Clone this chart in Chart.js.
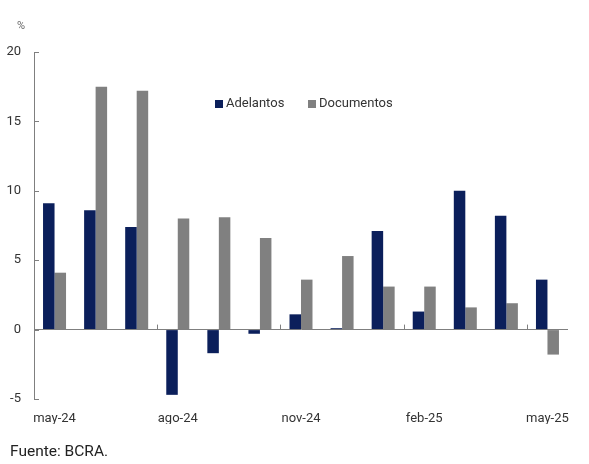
<!DOCTYPE html>
<html>
<head>
<meta charset="utf-8">
<script src="https://cdn.jsdelivr.net/npm/chart.js@4"></script>
<style>
  html, body { margin: 0; padding: 0; background: #fff; }
  #wrap { position: relative; width: 589px; height: 464px; }
  #pct { position: absolute; left: 17px; top: 19px; font: 11px Roboto, sans-serif; color: #666; }
  #src { position: absolute; left: 10px; top: 442px; font: 15.5px Roboto, sans-serif; color: #222; }
</style>
</head>
<body>
<div id="wrap">
  <canvas id="myChart" width="589" height="464"></canvas>
  <div id="pct">%</div>
  <div id="src">Fuente: BCRA.</div>
</div>
<script>
const months = ['may-24', 'jun-24', 'jul-24', 'ago-24', 'sep-24', 'oct-24', 'nov-24',
  'dic-24', 'ene-25', 'feb-25', 'mar-25', 'abr-25', 'may-25'];
const adelantos = [9.1, 8.6, 7.4, -4.7, -1.7, -0.3, 1.1, 0.1, 7.1, 1.3, 10.0, 8.2, 3.6];
const documentos = [4.1, 17.5, 17.2, 8.0, 8.1, 6.6, 3.6, 5.3, 3.1, 3.1, 1.6, 1.9, -1.8];
const yTicks = [20, 15, 10, 5, 0, -5];

const axisColor = '#7f7f7f';
const textColor = '#333';

// small marks: inward ticks on the y axis, upward ticks on the zero line every 3 months
const marks = {
  id: 'marks',
  afterDatasetsDraw(chart) {
    const { ctx, chartArea, scales } = chart;
    const x = scales.x, y = scales.y;
    ctx.save();
    ctx.strokeStyle = axisColor;
    ctx.lineWidth = 1;
    yTicks.forEach(v => {
      const py = Math.round(y.getPixelForValue(v)) + 0.5;
      ctx.beginPath();
      ctx.moveTo(chartArea.left, py);
      ctx.lineTo(chartArea.left + 5, py);
      ctx.stroke();
    });
    const y0 = y.getPixelForValue(0);
    const half = (x.getPixelForValue(1) - x.getPixelForValue(0)) / 2;
    for (let i = 3; i < months.length; i += 3) {
      const px = Math.round(x.getPixelForValue(i) - half) + 0.5;
      ctx.beginPath();
      ctx.moveTo(px, y0);
      ctx.lineTo(px, y0 - 5);
      ctx.stroke();
    }
    // legend
    ctx.font = '13px Roboto, sans-serif';
    ctx.textBaseline = 'middle';
    let lx = 215;
    chart.data.datasets.forEach(ds => {
      ctx.fillStyle = ds.backgroundColor;
      ctx.fillRect(lx, 100, 8, 8);
      ctx.fillStyle = textColor;
      ctx.fillText(ds.label, lx + 11, 104);
      lx += 93;
    });
    ctx.restore();
  }
};

new Chart(document.getElementById('myChart').getContext('2d'), {
  type: 'bar',
  data: {
    labels: months,
    datasets: [
      { label: 'Adelantos', data: adelantos, backgroundColor: '#0b1f5b' },
      { label: 'Documentos', data: documentos, backgroundColor: '#808080' },
    ],
  },
  options: {
    responsive: false,
    animation: false,
    layout: { padding: { top: 52, right: 21, bottom: 40, left: 0 } },
    categoryPercentage: 0.56,
    barPercentage: 1.0,
    plugins: {
      legend: { display: false },
      tooltip: { enabled: false },
    },
    scales: {
      x: {
        grid: { display: false, drawTicks: false },
        border: { display: false },
        ticks: {
          autoSkip: false,
          maxRotation: 0,
          padding: 12,
          color: textColor,
          font: { family: 'Roboto', size: 13 },
          callback: (v, i) => (i % 3 === 0 ? months[i] : ''),
        },
        afterFit: s => { s.height = 25; },
      },
      y: {
        min: -5,
        max: 20,
        afterBuildTicks: s => { s.ticks = yTicks.map(v => ({ value: v })); },
        grid: {
          drawTicks: false,
          color: c => (c.tick && c.tick.value === 0 ? axisColor : 'rgba(0,0,0,0)'),
        },
        border: { display: true, color: axisColor },
        ticks: {
          padding: 13,
          color: textColor,
          font: { family: 'Roboto', size: 13 },
        },
        afterFit: s => { s.width = 34; },
      },
    },
  },
  plugins: [marks],
});
</script>
</body>
</html>
